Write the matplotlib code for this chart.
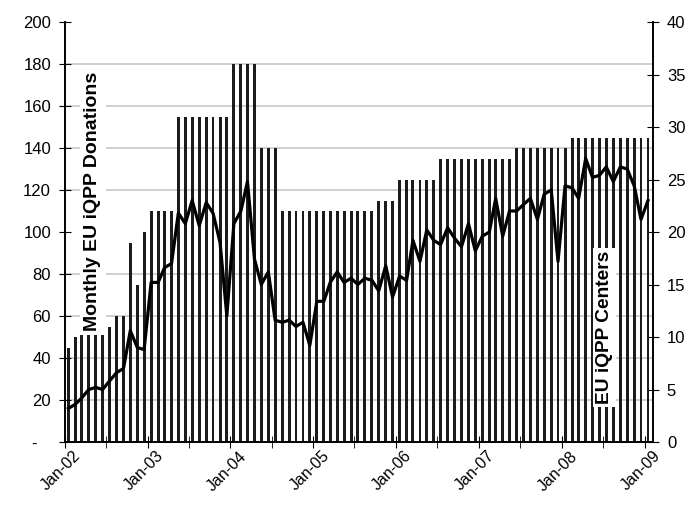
import matplotlib
matplotlib.use('Agg')
import matplotlib.pyplot as plt
import matplotlib.dates as mdates
import matplotlib.transforms as mtransforms
from matplotlib.ticker import MultipleLocator, FuncFormatter
import pandas as pd

plt.rcParams['font.family'] = ['Liberation Sans', 'DejaVu Sans']

# monthly data, Jan-02 .. Jan-09
months = pd.date_range('2002-01-01', '2009-01-01', freq='MS')

centers = [9, 10, 11, 11, 11, 11, 11, 12, 12, 19, 15, 20,
           22, 22, 22, 22, 31, 31, 31, 31, 31, 31, 31, 31,
           36, 36, 36, 36, 28, 28, 28, 22, 22, 22, 22, 22,
           22, 22, 22, 22, 22, 22, 22, 22, 22, 23, 23, 23,
           25, 25, 25, 25, 25, 25, 27, 27, 27, 27, 27, 27,
           27, 27, 27, 27, 27, 28, 28, 28, 28, 28, 28, 28,
           28, 29, 29, 29, 29, 29, 29, 29, 29, 29, 29, 29,
           29]

donations = [16, 18, 21, 25, 26, 25, 29, 33, 35, 53, 45, 44,
             76, 76, 83, 85, 109, 104, 115, 103, 114, 109, 95, 60,
             104, 110, 124, 87, 75, 81, 58, 57, 58, 55, 57, 46,
             67, 67, 76, 81, 76, 78, 75, 78, 77, 72, 84, 69,
             79, 77, 96, 86, 101, 96, 94, 102, 97, 93, 104, 91,
             98, 100, 116, 98, 110, 110, 113, 116, 106, 118, 120, 86,
             122, 121, 116, 135, 126, 127, 131, 124, 131, 130, 122, 106,
             115]

x = months + pd.Timedelta(days=15)

fig = plt.figure(figsize=(6.91, 5.11), dpi=100)
ax2 = fig.add_axes([65 / 691, 69 / 511, 588 / 691, 420 / 511])
ax = ax2.twinx()
ax2.yaxis.tick_right()
ax.yaxis.tick_left()
ax.set_zorder(ax2.get_zorder() + 1)
ax.patch.set_visible(False)

# bars: centers (right axis)
ax2.bar(x, centers, width=13, color='#1c1c1c', zorder=2)
ax2.set_ylim(0, 40)
ax2.yaxis.set_major_locator(MultipleLocator(5))
ax2.yaxis.set_minor_locator(MultipleLocator(4))
ax2.grid(which='minor', axis='y', color='#c8c8c8', linewidth=1.2, zorder=0)
ax2.set_axisbelow(True)
ax2.tick_params(axis='y', which='minor', length=0)
ax2.tick_params(axis='y', which='major', direction='inout', length=8,
                labelsize=12, pad=6)

# line: donations (left axis)
ax.plot(x, donations, color='black', linewidth=2.3, zorder=3)
ax.set_ylim(0, 200)
ax.yaxis.set_major_locator(MultipleLocator(20))
ax.yaxis.set_major_formatter(FuncFormatter(lambda v, p: '-   ' if v == 0 else f'{v:.0f}'))
ax.tick_params(axis='y', direction='inout', length=8, labelsize=12, pad=6)

ax2.set_xlim(pd.Timestamp('2002-01-01'), pd.Timestamp('2009-02-07'))
ax2.xaxis.set_major_locator(mdates.MonthLocator(bymonth=[1]))
ax2.xaxis.set_minor_locator(mdates.MonthLocator(bymonth=[7]))
ax2.xaxis.set_major_formatter(mdates.DateFormatter('%b-%y'))
ax2.tick_params(axis='x', which='both', direction='inout', length=8, labelsize=11.5)
shift = mtransforms.ScaledTranslation(8 / 100, 4 / 100, fig.dpi_scale_trans)
for lab in ax2.get_xticklabels():
    lab.set_rotation(45)
    lab.set_ha('right')
    lab.set_rotation_mode('anchor')
    lab.set_transform(lab.get_transform() + shift)

for a in (ax, ax2):
    a.spines['top'].set_visible(False)
    for s in ('left', 'right', 'bottom'):
        a.spines[s].set_linewidth(1.2)

ax.text(0.0476, 0.574, 'Monthly EU iQPP Donations', transform=ax.transAxes,
        rotation=90, ha='center', va='center', fontsize=14, fontweight='bold',
        bbox=dict(facecolor='white', edgecolor='none', pad=3), zorder=5)
ax.text(0.917, 0.273, 'EU iQPP Centers', transform=ax.transAxes,
        rotation=90, ha='center', va='center', fontsize=13.8, fontweight='bold',
        bbox=dict(facecolor='white', edgecolor='none', boxstyle='square,pad=0.15'),
        zorder=5)

fig.savefig('out.png', dpi=100)
